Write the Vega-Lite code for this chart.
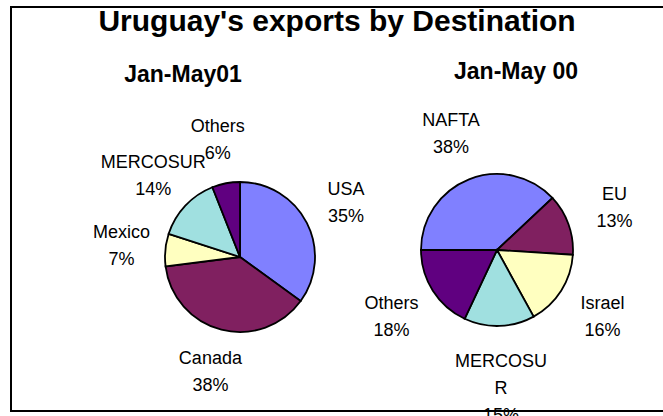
{
  "$schema": "https://vega.github.io/schema/vega-lite/v6.json",
  "width": 656,
  "height": 404,
  "autosize": {"type": "none"},
  "padding": {"left": 11, "top": 7, "right": 0, "bottom": 5},
  "background": "white",
  "config": {"view": {"stroke": "black", "strokeWidth": 2}},
  "title": {"text": "Uruguay's exports by Destination", "font": "Liberation Sans", "fontSize": 30, "fontWeight": "bold", "color": "black", "anchor": "middle", "offset": -30, "dx": -2},
  "datasets": {
    "shares": [
      {"period": "Jan-May01", "name": "USA", "value": 35, "order": 1, "label": "USA\n35%"},
      {"period": "Jan-May01", "name": "Canada", "value": 38, "order": 2, "label": "Canada\n38%"},
      {"period": "Jan-May01", "name": "Mexico", "value": 7, "order": 3, "label": "Mexico\n7%"},
      {"period": "Jan-May01", "name": "MERCOSUR", "value": 14, "order": 4, "label": "MERCOSUR\n14%"},
      {"period": "Jan-May01", "name": "Others", "value": 6, "order": 5, "label": "Others\n6%"},
      {"period": "Jan-May 00", "name": "NAFTA", "value": 38, "order": 1, "label": "NAFTA\n38%"},
      {"period": "Jan-May 00", "name": "EU", "value": 13, "order": 2, "label": "EU\n13%"},
      {"period": "Jan-May 00", "name": "Israel", "value": 16, "order": 3, "label": "Israel\n16%"},
      {"period": "Jan-May 00", "name": "MERCOSUR", "value": 15, "order": 4, "label": "MERCOSU\nR\n15%"},
      {"period": "Jan-May 00", "name": "Others", "value": 18, "order": 5, "label": "Others\n18%"}
    ],
    "panels": [
      {"period": "Jan-May01"},
      {"period": "Jan-May 00"}
    ]
  },
  "data": {"name": "shares"},
  "layer": [
    {
      "transform": [{"filter": "datum.period === 'Jan-May01'"}],
      "mark": {"type": "arc", "outerRadius": 75, "stroke": "black", "strokeWidth": 1.8},
      "encoding": {
        "theta": {"field": "value", "type": "quantitative", "stack": true},
        "order": {"field": "order", "type": "quantitative"},
        "color": {"field": "name", "type": "nominal", "legend": null,
          "scale": {"domain": ["USA", "NAFTA", "Canada", "EU", "Mexico", "Israel", "MERCOSUR", "Others"],
                    "range": ["#8080FF", "#8080FF", "#802060", "#802060", "#FFFFC0", "#FFFFC0", "#A0E0E0", "#600080"]}},
        "x": {"field": "period", "type": "nominal", "axis": null, "scale": {"type": "point", "padding": 0, "domain": ["Jan-May01", "Jan-May 00"], "range": [229, 486]}},
        "y": {"field": "period", "type": "nominal", "axis": null, "scale": {"type": "point", "padding": 0, "domain": ["Jan-May01", "Jan-May 00"], "range": [250, 243]}}
      }
    },
    {
      "transform": [{"filter": "datum.period === 'Jan-May01'"}],
      "mark": {"type": "text", "radius": 119, "dy": -13, "font": "Liberation Sans", "fontSize": 18, "lineBreak": "\n", "lineHeight": 27, "align": "center", "baseline": "middle", "color": "black"},
      "encoding": {
        "theta": {"field": "value", "type": "quantitative", "stack": true},
        "order": {"field": "order", "type": "quantitative"},
        "text": {"field": "label", "type": "nominal"},
        "x": {"field": "period", "type": "nominal", "axis": null, "scale": {"type": "point", "padding": 0, "domain": ["Jan-May01", "Jan-May 00"], "range": [229, 486]}},
        "y": {"field": "period", "type": "nominal", "axis": null, "scale": {"type": "point", "padding": 0, "domain": ["Jan-May01", "Jan-May 00"], "range": [250, 243]}}
      }
    },
    {
      "transform": [{"filter": "datum.period === 'Jan-May 00'"}],
      "mark": {"type": "arc", "outerRadius": 76, "stroke": "black", "strokeWidth": 1.8},
      "encoding": {
        "theta": {"field": "value", "type": "quantitative", "stack": true, "scale": {"range": [4.712389, 10.995574]}},
        "order": {"field": "order", "type": "quantitative"},
        "color": {"field": "name", "type": "nominal", "legend": null},
        "x": {"field": "period", "type": "nominal", "axis": null, "scale": {"type": "point", "padding": 0, "domain": ["Jan-May01", "Jan-May 00"], "range": [229, 486]}},
        "y": {"field": "period", "type": "nominal", "axis": null, "scale": {"type": "point", "padding": 0, "domain": ["Jan-May01", "Jan-May 00"], "range": [250, 243]}}
      }
    },
    {
      "transform": [{"filter": "datum.period === 'Jan-May 00'"}],
      "mark": {"type": "text", "radius": 125, "dy": -13, "font": "Liberation Sans", "fontSize": 18, "lineBreak": "\n", "lineHeight": 27, "align": "center", "baseline": "middle", "color": "black"},
      "encoding": {
        "theta": {"field": "value", "type": "quantitative", "stack": true, "scale": {"range": [4.712389, 10.995574]}},
        "order": {"field": "order", "type": "quantitative"},
        "text": {"field": "label", "type": "nominal"},
        "x": {"field": "period", "type": "nominal", "axis": null, "scale": {"type": "point", "padding": 0, "domain": ["Jan-May01", "Jan-May 00"], "range": [229, 486]}},
        "y": {"field": "period", "type": "nominal", "axis": null, "scale": {"type": "point", "padding": 0, "domain": ["Jan-May01", "Jan-May 00"], "range": [250, 243]}}
      }
    },
    {
      "data": {"name": "panels"},
      "mark": {"type": "text", "font": "Liberation Sans", "fontSize": 23, "fontWeight": "bold", "align": "center", "baseline": "middle", "color": "black"},
      "encoding": {
        "text": {"field": "period", "type": "nominal"},
        "x": {"field": "period", "type": "nominal", "axis": null, "scale": {"type": "point", "padding": 0, "domain": ["Jan-May01", "Jan-May 00"], "range": [172, 505]}},
        "y": {"field": "period", "type": "nominal", "axis": null, "scale": {"type": "point", "padding": 0, "domain": ["Jan-May01", "Jan-May 00"], "range": [68, 65]}}
      }
    }
  ],
  "resolve": {"scale": {"x": "independent", "y": "independent", "theta": "independent"}}
}
